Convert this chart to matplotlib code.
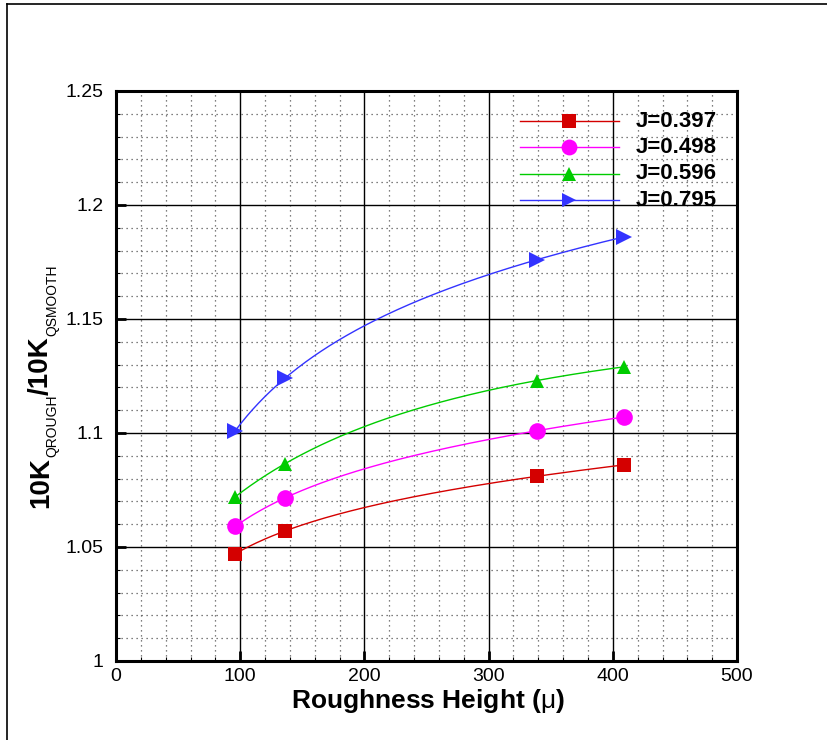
import matplotlib
matplotlib.use("Agg")
import matplotlib.pyplot as plt
from matplotlib.lines import Line2D
from matplotlib.ticker import MultipleLocator
import numpy as np

plt.rcParams['font.family'] = ['Liberation Sans', 'DejaVu Sans']
plt.rcParams['mathtext.fontset'] = 'custom'
plt.rcParams['mathtext.rm'] = 'Liberation Sans'
plt.rcParams['mathtext.bf'] = 'Liberation Sans:bold'

# roughness height (micron)
roughness = [96, 136, 339, 409]

j_labels = ['J=0.397', 'J=0.498', 'J=0.596', 'J=0.795']
ratio_397 = [1.047, 1.057, 1.081, 1.086]
ratio_498 = [1.059, 1.0715, 1.101, 1.107]
ratio_596 = [1.072, 1.0865, 1.123, 1.129]
ratio_795 = [1.101, 1.124, 1.176, 1.186]

series = [ratio_397, ratio_498, ratio_596, ratio_795]
colors = ['#d40000', '#ff00ff', '#00cc00', '#3333ff']
markers = ['s', 'o', '^', '>']
msizes = [10, 12, 10, 11]


def smooth_curve(x, y, n=200):
    # cubic through the points in log(x), just for drawing the line
    lx = np.log(x)
    c = np.polyfit(lx, y, 3)
    xs = np.linspace(min(x), max(x), n)
    return xs, np.polyval(c, np.log(xs))


fig = plt.figure(figsize=(8.27, 7.4), dpi=100)
ax = fig.add_axes([0.1403, 0.1068, 0.7509, 0.7703])

for ys, col, mk, ms in zip(series, colors, markers, msizes):
    xs, yc = smooth_curve(roughness, ys)
    ax.plot(xs, yc, color=col, lw=1.0, zorder=3)
    ax.plot(roughness, ys, ls='none', marker=mk, color=col, ms=ms,
            markeredgewidth=0, zorder=4)

ax.set_xlim(0, 500)
ax.set_ylim(1.0, 1.25)
ax.xaxis.set_major_locator(MultipleLocator(100))
ax.xaxis.set_minor_locator(MultipleLocator(20))
ax.yaxis.set_minor_locator(MultipleLocator(0.01))
ax.set_yticks([1.0, 1.05, 1.1, 1.15, 1.2, 1.25])
ax.set_yticklabels(['1', '1.05', '1.1', '1.15', '1.2', '1.25'])

ax.grid(which='major', color='black', lw=1.0, ls='-', zorder=1)
ax.grid(which='minor', color='#555555', lw=0.9, ls=(0, (1, 3)), zorder=1)
ax.tick_params(which='major', direction='in', length=7, width=2,
               labelsize=14, pad=9)
ax.tick_params(which='minor', direction='in', length=3, width=0.8)
ax.tick_params(axis='x', which='major', pad=5)
for s in ax.spines.values():
    s.set_linewidth(2.2)
ax.set_axisbelow(True)

ax.set_xlabel(r'Roughness Height ($\mathrm{\mu}$)', fontsize=19,
              fontweight='bold')
ax.xaxis.set_label_coords(0.502, -0.045)

# y label built from pieces so the subscripts can be small
pieces = [('10K', 20, 'bold', 48), ('QROUGH', 10, 'normal', 56),
          ('/10K', 20, 'bold', 48), ('QSMOOTH', 10, 'normal', 56)]
renderer = fig.canvas.get_renderer()
ypix = 740 - 508
for txt, fs, fw, xb in pieces:
    t = fig.text(xb / 827, ypix / 740, txt, fontsize=fs, fontweight=fw,
                 rotation=90, rotation_mode='anchor', ha='left', va='baseline')
    ypix += t.get_window_extent(renderer).height

# legend drawn by hand, no frame
ly = [0.947, 0.901, 0.855, 0.808]
for lab, col, mk, ms, yy in zip(j_labels, colors, markers, msizes, ly):
    ax.add_line(Line2D([0.65, 0.81], [yy, yy], transform=ax.transAxes,
                       color=col, lw=1.0, zorder=5))
    ax.add_line(Line2D([0.729], [yy], transform=ax.transAxes, color=col,
                       marker=mk, ms=ms * 0.95, markeredgewidth=0, zorder=6))
    ax.text(0.837, yy, lab, transform=ax.transAxes, fontsize=16,
            fontweight='bold', va='center', ha='left', zorder=6)

# partial frame around the figure
fig.add_artist(Line2D([0.0085, 0.0085], [0.0, 0.995], transform=fig.transFigure,
                      color='black', lw=1.2))
fig.add_artist(Line2D([0.0085, 1.0], [0.995, 0.995], transform=fig.transFigure,
                      color='black', lw=1.2))

fig.savefig('out.png', dpi=100)
